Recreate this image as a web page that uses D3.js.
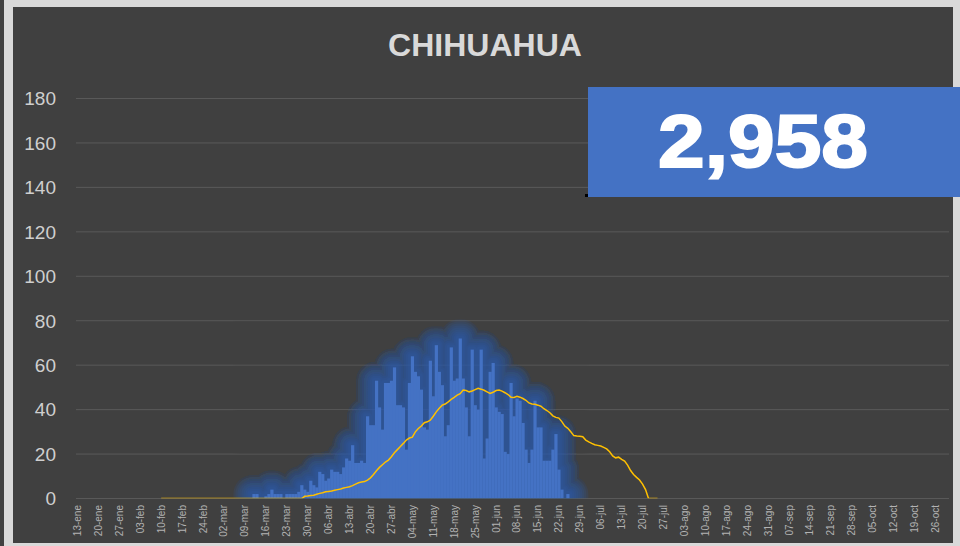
<html>
<head>
    <title>Chihuahua</title>
    <script src="https://d3js.org/d3.v7.min.js"></script>
    <style>
        body { margin:0; background:#d9d9d9; }
        text { font-family: "Liberation Sans", Arial, sans-serif; }
    </style>
</head>
<body>
    <svg id="chart" width="960" height="546"></svg>

    <script>
        // data
        var titulo = "CHIHUAHUA";
        var total = "2,958";
        var inicio = "2020-01-13", fin = "2020-10-30";
        var etiquetas = ["13-ene","20-ene","27-ene","03-feb","10-feb","17-feb","24-feb","02-mar","09-mar","16-mar",
            "23-mar","30-mar","06-abr","13-abr","20-abr","27-abr","04-may","11-may","18-may","25-may",
            "01-jun","08-jun","15-jun","22-jun","29-jun","06-jul","13-jul","20-jul","27-jul","03-ago",
            "10-ago","17-ago","24-ago","31-ago","07-sep","14-sep","21-sep","28-sep","05-oct","12-oct",
            "19-oct","26-oct"];
        var yTicks = [0,20,40,60,80,100,120,140,160,180];

        // daily cases, starting 12-mar
        var casosInicio = "2020-03-12";
        var casos = [2,2,0,0,1,2,4,2,2,2,0,2,2,2,2,3,6,4,3,8,
            6,5,12,11,8,9,13,12,12,11,14,18,17,24,16,16,17,16,37,33,
            33,53,41,31,52,52,53,59,42,42,41,22,52,64,57,55,49,32,31,62,
            46,69,57,51,28,33,68,53,54,72,54,41,28,67,42,40,67,18,27,57,
            61,41,39,38,21,20,52,37,45,44,34,22,16,22,44,32,32,17,17,17,
            22,29,13,4,0,2];

        // moving average line, starting 10-feb
        var promInicio = "2020-02-10";
        var promedio = [0,0,0,0,0,0,0,0,0,0,0,0,0,0,0,0,0,0,0,0,
            0,0,0,0,0,0,0,0,0,0,0,0,0,0,0,0,0,0,0,0,
            0,0,0,0,0,0,0,0,
            1.0,1.1,1.3,1.5,1.9,2.3,2.6,3.0,3.2,3.4,3.7,4.0,4.3,4.7,5.0,5.3,5.8,6.5,7.1,7.4,
            7.6,8.3,9.3,10.8,12.5,14.0,15.2,16.4,17.3,18.8,20.6,22.0,23.4,24.8,26.3,27.2,27.6,30.0,31.5,32.6,
            34.1,34.5,35.2,37.0,39.0,40.6,42.0,42.5,43.5,44.6,45.5,46.5,47.2,48.8,48.6,48.0,48.4,49.0,49.6,49.2,
            48.7,48.0,47.3,47.8,48.6,48.8,48.3,47.6,46.8,45.6,45.5,46.0,45.6,45.0,44.2,43.0,42.5,42.4,42.0,41.5,
            40.4,39.6,38.6,37.2,36.5,36.2,34.6,32.6,31.6,30.0,28.3,28.1,28.0,27.8,26.3,25.5,24.8,24.2,23.9,23.6,
            23.0,22.3,21.0,19.2,18.3,18.6,17.6,16.8,15.0,12.6,10.8,9.5,8.3,6.5,4.0,0,0,0,0];

        var svg = d3.select("#chart");
        var parse = d3.utcParse("%Y-%m-%d");
        var dias = d3.utcDay.range(parse(inicio), d3.utcDay.offset(parse(fin), 1));
        var key = d3.utcFormat("%Y-%m-%d");

        var x = d3.scaleBand().domain(dias.map(key)).range([76, 949]).padding(0);
        var y = d3.scaleLinear().domain([0, 180]).range([498.5, 98.5]);
        var xc = function(k) { return x(k) + x.bandwidth() / 2; };

        var diaDe = function(start, i) { return key(d3.utcDay.offset(parse(start), i)); };

        // panel
        svg.append("rect").attr("x", 0).attr("y", 0).attr("width", 4).attr("height", 546).attr("fill", "#404040");
        svg.append("rect").attr("x", 13).attr("y", 7).attr("width", 940).attr("height", 536).attr("fill", "#404040");

        svg.append("text")
            .attr("x", 485).attr("y", 56)
            .attr("text-anchor", "middle")
            .style("font-size", "32px")
            .style("font-weight", "bold")
            .attr("fill", "#d9d9d9")
            .text(titulo);

        // grid + y labels
        svg.append("g").selectAll("line").data(yTicks).enter().append("line")
            .attr("x1", 76).attr("x2", 949)
            .attr("y1", function(d) { return y(d); })
            .attr("y2", function(d) { return y(d); })
            .attr("stroke", "#595959").attr("stroke-width", 1);

        svg.append("g").selectAll("text").data(yTicks).enter().append("text")
            .attr("x", 56)
            .attr("y", function(d) { return y(d); })
            .attr("dy", "0.36em")
            .attr("text-anchor", "end")
            .style("font-size", "19px")
            .attr("fill", "#cfcfcf")
            .text(function(d) { return d; });

        // x labels, every 7 days
        svg.append("g").selectAll("text").data(etiquetas).enter().append("text")
            .attr("transform", function(d, i) {
                return "translate(" + xc(key(dias[i * 7])) + ",505) rotate(-90)";
            })
            .attr("dy", "0.35em")
            .attr("text-anchor", "end")
            .style("font-size", "10px")
            .attr("fill", "#b3b3b3")
            .text(function(d) { return d; });

        var defs = svg.append("defs");
        defs.append("clipPath").attr("id", "plot")
            .append("rect").attr("x", 76).attr("y", 60).attr("width", 873).attr("height", 498.3 - 60);

        var plot = svg.append("g").attr("clip-path", "url(#plot)");

        // glow: one path with all bars, stroked in rings of growing width
        var p = d3.path();
        casos.forEach(function(d, i) {
            if (d <= 0) return;
            p.rect(x(diaDe(casosInicio, i)), y(d), x.bandwidth(), y(0) - y(d) + 20);
        });
        var anchos = [38, 34, 30, 26, 22, 18, 14, 10, 6];
        plot.append("g").selectAll("path").data(anchos).enter().append("path")
            .attr("d", p.toString())
            .attr("fill", "#2b5aae")
            .attr("stroke", "#2b5aae")
            .attr("stroke-width", function(d) { return d; })
            .attr("stroke-linejoin", "round")
            .attr("opacity", 0.14);

        plot.append("g")
            .selectAll("rect").data(casos).enter().append("rect")
            .attr("x", function(d, i) { return x(diaDe(casosInicio, i)); })
            .attr("width", x.bandwidth() + 0.2)
            .attr("y", function(d) { return y(d); })
            .attr("height", function(d) { return y(0) - y(d); })
            .attr("fill", "#4472c4");

        var line = d3.line()
            .x(function(d, i) { return xc(diaDe(promInicio, i)); })
            .y(function(d) { return y(d); });

        plot.append("path")
            .datum(promedio)
            .attr("d", line)
            .attr("fill", "none")
            .attr("stroke", "#ffc000")
            .attr("stroke-width", 1.5);

        // total box
        svg.append("rect").attr("x", 585).attr("y", 194).attr("width", 3).attr("height", 3).attr("fill", "#000");
        svg.append("rect").attr("x", 588).attr("y", 87).attr("width", 372).attr("height", 110).attr("fill", "#4472c4");
        svg.append("text")
            .attr("x", 658).attr("y", 167)
            .attr("textLength", 210)
            .attr("lengthAdjust", "spacingAndGlyphs")
            .style("font-size", "75px")
            .style("font-weight", "bold")
            .attr("fill", "#fff")
            .attr("stroke", "#fff")
            .attr("stroke-width", 2)
            .text(total);
    </script>
</body>
</html>
